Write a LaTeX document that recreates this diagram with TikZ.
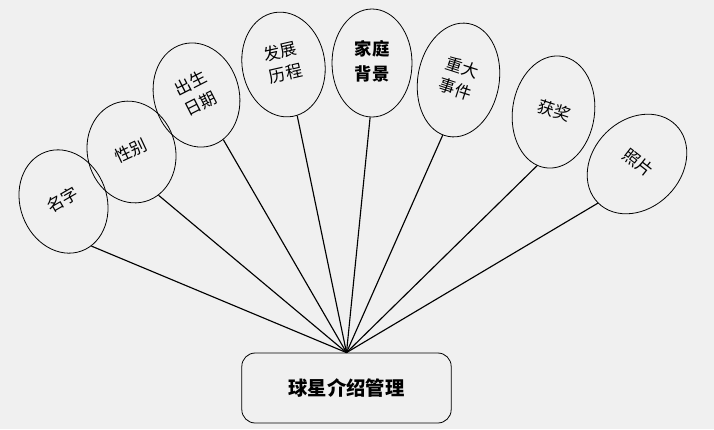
\documentclass[tikz,border=0pt]{standalone}
\usepackage{fontspec}
\usepackage{graphicx}
\setmainfont{Noto Sans CJK SC}
\usetikzlibrary{shapes.geometric}
\definecolor{bgc}{HTML}{F0F0F0}
\newcommand{\enttext}[2]{\rotatebox{#1}{\begin{tabular}{@{}c@{}}#2\end{tabular}}}
\begin{document}
\begin{tikzpicture}[x=0.75pt,y=-0.75pt,
  ent/.style={draw, ellipse, line width=0.6pt, inner sep=0pt,
    font=\fontsize{12.5}{17}\selectfont},
  link/.style={line width=0.85pt},
  mainbox/.style={draw, line width=0.6pt, rounded corners=10pt, minimum width=157pt,
    minimum height=52.5pt, inner sep=0pt, font=\bfseries\fontsize{14.5}{17}\selectfont}]
\fill[bgc] (0,0) rectangle (714,429);
\useasboundingbox (0,0) rectangle (714,429);

% entity ellipses (text turned a little more than the outline)
\node[ent, rotate=20, minimum width=65pt, minimum height=79pt] (n1) at (63.5,201.5) {\enttext{10}{名字}};
\node[ent, rotate=15, minimum width=66pt, minimum height=77pt] (n2) at (131.5,152) {\enttext{10}{性别}};
\node[ent, rotate=15, minimum width=64pt, minimum height=79pt] (n3) at (196.5,95) {\enttext{12}{出生\\日期}};
\node[ent, rotate=10, minimum width=62pt, minimum height=79pt] (n4) at (283.5,64.5) {\enttext{3}{发展\\历程}};
\node[ent, minimum width=60pt, minimum height=81pt,
  font=\bfseries\fontsize{13}{19}\selectfont] (n5) at (372,63) {\enttext{0}{家庭\\背景}};
\node[ent, rotate=-10, minimum width=61pt, minimum height=86pt] (n6) at (458.5,80) {\enttext{-8}{重大\\事件}};
\node[ent, rotate=-8, minimum width=61.5pt, minimum height=84.5pt] (n7) at (553.5,112) {\enttext{-10}{获奖}};
\node[ent, rotate=-45, minimum width=66pt, minimum height=82.5pt] (n8) at (637,164) {\enttext{7}{照片}};

% main box
\node[mainbox] (box) at (346.5,388) {球星介绍管理};

% connectors
\draw[link] (box.north) -- (n1.-78);
\draw[link] (box.north) -- (n2.-73);
\draw[link] (box.north) -- (n3.-74);
\draw[link] (box.north) -- (n4.-85);
\draw[link] (box.north) -- (n5.-92);
\draw[link] (box.north) -- (n6.-96);
\draw[link] (box.north) -- (n7.-99);
\draw[link] (box.north) -- (n8.-90);
\end{tikzpicture}
\end{document}
